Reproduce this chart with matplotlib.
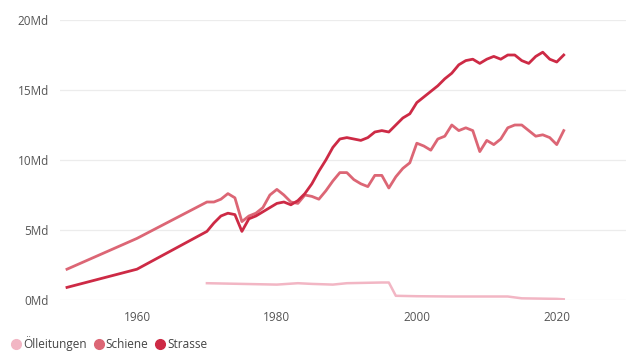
import matplotlib
matplotlib.use("Agg")
import matplotlib.pyplot as plt
from matplotlib.lines import Line2D

# Güterverkehr Schweiz, Md tkm
years_strasse = [1950, 1960, 1970, 1971, 1972, 1973, 1974, 1975, 1976, 1977, 1978, 1979,
                 1980, 1981, 1982, 1983, 1984, 1985, 1986, 1987, 1988, 1989, 1990, 1991,
                 1992, 1993, 1994, 1995, 1996, 1997, 1998, 1999, 2000, 2001, 2002, 2003,
                 2004, 2005, 2006, 2007, 2008, 2009, 2010, 2011, 2012, 2013, 2014, 2015,
                 2016, 2017, 2018, 2019, 2020, 2021]
strasse = [0.9, 2.2, 4.9, 5.5, 6.0, 6.2, 6.1, 4.9, 5.8, 6.0, 6.3, 6.6,
           6.9, 7.0, 6.8, 7.1, 7.6, 8.3, 9.2, 10.0, 10.9, 11.5, 11.6, 11.5,
           11.4, 11.6, 12.0, 12.1, 12.0, 12.5, 13.0, 13.3, 14.1, 14.5, 14.9, 15.3,
           15.8, 16.2, 16.8, 17.1, 17.2, 16.9, 17.2, 17.4, 17.2, 17.5, 17.5, 17.1,
           16.9, 17.4, 17.7, 17.2, 17.0, 17.5]
years_schiene = years_strasse
schiene = [2.2, 4.4, 7.0, 7.0, 7.2, 7.6, 7.3, 5.6, 6.0, 6.2, 6.6, 7.5,
           7.9, 7.5, 7.0, 6.9, 7.5, 7.4, 7.2, 7.8, 8.5, 9.1, 9.1, 8.6,
           8.3, 8.1, 8.9, 8.9, 8.0, 8.8, 9.4, 9.8, 11.2, 11.0, 10.7, 11.5,
           11.7, 12.5, 12.1, 12.3, 12.1, 10.6, 11.4, 11.1, 11.5, 12.3, 12.5, 12.5,
           12.1, 11.7, 11.8, 11.6, 11.1, 12.1]
years_oel = [1970, 1975, 1980, 1983, 1985, 1988, 1990, 1995, 1996, 1997, 2000, 2005,
             2010, 2013, 2015, 2020, 2021]
oel = [1.2, 1.15, 1.1, 1.2, 1.15, 1.1, 1.2, 1.25, 1.25, 0.3, 0.27, 0.25,
       0.25, 0.25, 0.12, 0.08, 0.05]

y_ticks = [0, 5, 10, 15, 20]
y_labels = ["0Md", "5Md", "10Md", "15Md", "20Md"]
x_ticks = [1960, 1980, 2000, 2020]

c_oel = "#f2b6c4"
c_schiene = "#dc6675"
c_strasse = "#cd2a45"

plt.rcParams['font.family'] = ['Open Sans', 'DejaVu Sans']

fig = plt.figure(figsize=(6.26, 3.51), dpi=100)
ax = fig.add_axes([60 / 626, 51 / 351, 566 / 626, 280 / 351])

ax.plot(years_oel, oel, color=c_oel, linewidth=1.8)
ax.plot(years_schiene, schiene, color=c_schiene, linewidth=2)
ax.plot(years_strasse, strasse, color=c_strasse, linewidth=2)

ax.set_xlim(1949, 2029.9)
ax.set_ylim(0, 20)
ax.set_yticks(y_ticks)
ax.set_yticklabels(y_labels)
ax.set_xticks(x_ticks)
ax.tick_params(axis='both', length=0, labelsize=8.5, labelcolor='#555555')
ax.tick_params(axis='y', pad=8)
ax.tick_params(axis='x', pad=8)
ax.grid(True, axis='y', color='#ececec', linewidth=0.9)
ax.set_axisbelow(True)
for s in ax.spines.values():
    s.set_visible(False)

handles = [Line2D([], [], linestyle='none', marker='o', markersize=7, color=c)
           for c in (c_oel, c_schiene, c_strasse)]
fig.legend(handles, ["Ölleitungen", "Schiene", "Strasse"], loc='center left',
           bbox_to_anchor=(0.018, 7 / 351), ncol=3, frameon=False, fontsize=8.5,
           handlelength=0.8, handletextpad=0.2, columnspacing=0.6, labelcolor='#444444',
           borderaxespad=0, borderpad=0)

fig.savefig('out.png', dpi=100)
